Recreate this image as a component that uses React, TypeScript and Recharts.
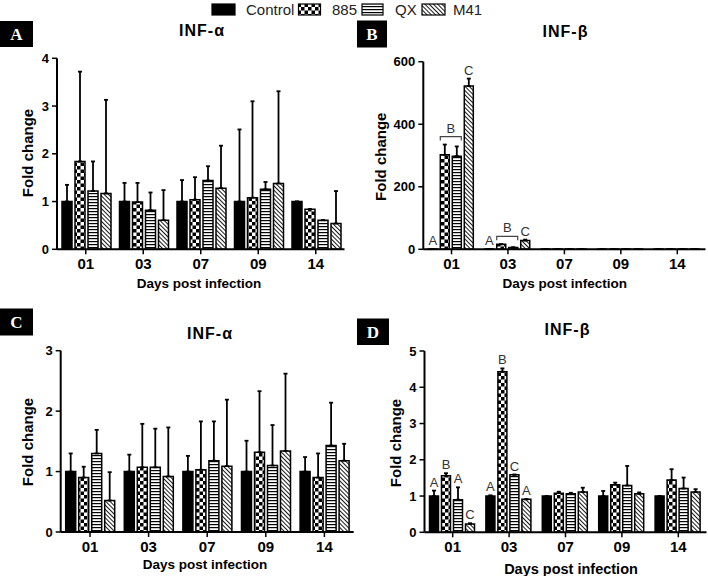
import React from 'react';
import { BarChart, Bar, XAxis, YAxis, ErrorBar, LabelList } from 'recharts';

const FONT = '"Liberation Sans", Arial, Helvetica, sans-serif';

const days = ['01', '03', '07', '09', '14'];
const seriesNames = ['Control', '885', 'QX', 'M41'];

// A: INF-alpha (top)
const aControl = [1.0, 1.0, 1.0, 1.0, 1.0];
const aControlTop = [1.35, 1.39, 1.45, 2.51, 1.0];
const a885 = [1.84, 0.99, 1.04, 1.08, 0.84];
const a885Top = [3.72, 1.39, 1.51, 3.1, 0.84];
const aQX = [1.22, 0.82, 1.44, 1.26, 0.61];
const aQXTop = [1.84, 1.19, 1.74, 1.41, 0.61];
const aM41 = [1.17, 0.61, 1.28, 1.38, 0.54];
const aM41Top = [3.13, 1.24, 2.17, 3.31, 1.22];

// B: INF-beta (top)
const bControl = [1, 1, 1, 1, 1];
const bControlTop = [1, 1, 1, 1, 1];
const b885 = [302, 16, 1, 1, 1];
const b885Top = [335, 16, 1, 1, 1];
const bQX = [298, 6, 1, 1, 1];
const bQXTop = [329, 6, 1, 1, 1];
const bM41 = [522, 28, 1, 1, 1];
const bM41Top = [546, 31, 1, 1, 1];
const bLetters = [
  ['A', 'A', '', '', ''],
  ['B', 'B', '', '', ''],
  ['', '', '', '', ''],
  ['C', 'C', '', '', ''],
];

// C: INF-alpha (bottom)
const cControl = [1.0, 1.0, 1.0, 1.0, 1.0];
const cControlTop = [1.3, 1.28, 1.26, 1.51, 1.24];
const c885 = [0.9, 1.07, 1.03, 1.32, 0.9];
const c885Top = [1.08, 1.79, 1.83, 2.33, 1.3];
const cQX = [1.3, 1.07, 1.18, 1.1, 1.43];
const cQXTop = [1.69, 1.71, 1.83, 1.77, 2.14];
const cM41 = [0.52, 0.92, 1.09, 1.34, 1.18];
const cM41Top = [0.99, 1.73, 2.19, 2.62, 1.46];

// D: INF-beta (bottom)
const dControl = [1.0, 1.0, 1.0, 1.0, 1.0];
const dControlTop = [1.15, 1.02, 1.0, 1.14, 1.0];
const d885 = [1.56, 4.43, 1.08, 1.31, 1.44];
const d885Top = [1.63, 4.52, 1.12, 1.37, 1.74];
const dQX = [0.9, 1.59, 1.06, 1.29, 1.21];
const dQXTop = [1.24, 1.59, 1.09, 1.83, 1.51];
const dM41 = [0.23, 0.91, 1.11, 1.06, 1.11];
const dM41Top = [0.25, 0.91, 1.23, 1.1, 1.19];
const dLetters = [
  ['A', 'A', '', '', ''],
  ['B', 'B', '', '', ''],
  ['A', 'C', '', '', ''],
  ['C', 'A', '', '', ''],
];

function buildRows(means: number[][], tops: number[][], letters?: string[][]) {
  return days.map((day, i) => {
    const row: any = { day };
    means.forEach((m, s) => {
      row['s' + s] = m[i];
      row['e' + s] = [0, Math.max(0, tops[s][i] - m[i])];
      row['l' + s] = letters ? letters[s][i] : '';
    });
    return row;
  });
}

function barBox(props: any) {
  const vb = props.viewBox || {};
  const x = props.x ?? vb.x;
  const y = props.y ?? vb.y;
  const w = props.width ?? vb.width;
  const h = props.height ?? vb.height;
  const top = Math.min(y, y + h);
  const base = Math.max(y, y + h);
  return { x, w, top, base };
}

const letterLabel = (means: number[], tops: number[]) => (props: any) => {
  const { value, index } = props;
  if (!value) return null;
  const { x, w, top, base } = barBox(props);
  const ppu = means[index] ? (base - top) / means[index] : 0;
  const t = Math.min(top, base - tops[index] * ppu);
  return (
    <text x={x + w / 2} y={t - 4} textAnchor="middle" fontSize={13} fill="#333" fontFamily={FONT}>
      {value}
    </text>
  );
};

const bracketLabel = (means: number[], tops: number[], nextMeans: number[], nextTops: number[]) => (props: any) => {
  const { value, index } = props;
  if (!value) return null;
  const { x, w, top, base } = barBox(props);
  const ppu = (base - top) / means[index];
  const t1 = base - Math.max(means[index], tops[index]) * ppu;
  const t2 = base - Math.max(nextMeans[index], nextTops[index]) * ppu;
  const yb = Math.min(t1, t2) - 8;
  const x1 = x;
  const x2 = x + 2 * w + 3;
  return (
    <g>
      <path d={`M${x1},${yb + 4}V${yb}H${x2}V${yb + 4}`} stroke="#444" strokeWidth={1.2} fill="none" />
      <text x={(x1 + x2) / 2} y={yb - 4} textAnchor="middle" fontSize={13} fill="#333" fontFamily={FONT}>
        {value}
      </text>
    </g>
  );
};

function Patterns({ id }: { id: string }) {
  return (
    <defs>
      <pattern id={`chk-${id}`} width={7} height={7} patternUnits="userSpaceOnUse">
        <rect width={7} height={7} fill="#fff" />
        <rect width={3.5} height={3.5} fill="#000" />
        <rect x={3.5} y={3.5} width={3.5} height={3.5} fill="#000" />
      </pattern>
      <pattern id={`hz-${id}`} width={4} height={3} patternUnits="userSpaceOnUse">
        <rect width={4} height={3} fill="#fff" />
        <rect width={4} height={1.2} fill="#000" />
      </pattern>
      <pattern id={`dg-${id}`} width={3} height={3} patternUnits="userSpaceOnUse" patternTransform="rotate(-45)">
        <rect width={3} height={3} fill="#fff" />
        <rect width={0.9} height={3} fill="#000" />
      </pattern>
    </defs>
  );
}

type PanelProps = {
  id: string;
  box: { left: number; top: number; width: number; height: number };
  margin: { top: number; right: number; left: number; bottom: number };
  yWidth: number;
  yMax: number;
  ticks: number[];
  means: number[][];
  tops: number[][];
  letters?: string[][];
  bracket?: number;
};

function Panel({ id, box, margin, yWidth, yMax, ticks, means, tops, letters, bracket }: PanelProps) {
  const rows = buildRows(means, tops, letters);
  const fills = ['#000', `url(#chk-${id})`, `url(#hz-${id})`, `url(#dg-${id})`];
  return (
    <div style={{ position: 'absolute', left: box.left, top: box.top }}>
      <BarChart width={box.width} height={box.height} data={rows} margin={margin} barCategoryGap={5} barGap={3}>
        <Patterns id={id} />
        <XAxis
          dataKey="day"
          height={25}
          interval={0}
          tickSize={5}
          tickMargin={4}
          axisLine={{ stroke: '#000', strokeWidth: 2 }}
          tickLine={{ stroke: '#000', strokeWidth: 1.5 }}
          tick={{ fill: '#000', fontSize: 15, fontWeight: 700, fontFamily: FONT }}
        />
        <YAxis
          width={yWidth}
          domain={[0, yMax]}
          ticks={ticks}
          interval={0}
          tickSize={5}
          tickMargin={3}
          axisLine={{ stroke: '#000', strokeWidth: 2 }}
          tickLine={{ stroke: '#000', strokeWidth: 1.5 }}
          tick={{ fill: '#000', fontSize: 13, fontWeight: 700, fontFamily: FONT }}
        />
        {means.map((m, s) => (
          <Bar
            key={s}
            dataKey={'s' + s}
            name={seriesNames[s]}
            fill={fills[s]}
            stroke="#000"
            strokeWidth={1.5}
            isAnimationActive={false}
          >
            <ErrorBar dataKey={'e' + s} width={2} strokeWidth={1.8} stroke="#000" direction="y" />
            {letters && (
              <LabelList
                dataKey={'l' + s}
                content={
                  bracket === s
                    ? bracketLabel(m, tops[s], means[s + 1], tops[s + 1])
                    : letterLabel(m, tops[s])
                }
              />
            )}
          </Bar>
        ))}
      </BarChart>
    </div>
  );
}

const panelBoxes = [
  { t: 'A', x: 0, y: 21, w: 33, h: 26 },
  { t: 'B', x: 357, y: 20.5, w: 30, h: 27 },
  { t: 'C', x: 0, y: 308.5, w: 33, h: 27 },
  { t: 'D', x: 357, y: 318.5, w: 32, h: 26.5 },
];

const titles = [
  { t: 'INF-\u03b1', x: 202, y: 36 },
  { t: 'INF-\u03b2', x: 565.5, y: 36.5 },
  { t: 'INF-\u03b1', x: 210, y: 339 },
  { t: 'INF-\u03b2', x: 567.5, y: 335 },
];

const yTitles = [
  { x: 33.4, y: 153 },
  { x: 385.7, y: 156.7 },
  { x: 33.4, y: 442 },
  { x: 400.7, y: 443 },
];

const xTitles = [
  { x: 199, y: 288, s: 13.5 },
  { x: 564.7, y: 288, s: 13.5 },
  { x: 205, y: 569, s: 13.5 },
  { x: 571, y: 573.5, s: 14.5 },
];

const legendPos = [
  { bx: 212, bw: 23, tx: 246 },
  { bx: 298.5, bw: 22, tx: 332 },
  { bx: 362, bw: 21, tx: 395 },
  { bx: 422, bw: 23, tx: 453 },
];

export default function App() {
  const legendFills = ['#000', 'url(#chk-L)', 'url(#hz-L)', 'url(#dg-L)'];
  return (
    <div style={{ position: 'absolute', left: 0, top: 0, width: 708, height: 576, background: '#fff', overflow: 'hidden' }}>
      <Panel
        id="A"
        box={{ left: 0, top: 40, width: 350, height: 240 }}
        margin={{ top: 18.3, right: 5.5, left: 17, bottom: 5.7 }}
        yWidth={40}
        yMax={4}
        ticks={[0, 1, 2, 3, 4]}
        means={[aControl, a885, aQX, aM41]}
        tops={[aControlTop, a885Top, aQXTop, aM41Top]}
      />
      <Panel
        id="B"
        box={{ left: 350, top: 40, width: 358, height: 240 }}
        margin={{ top: 21.7, right: 2.5, left: 23.3, bottom: 5.7 }}
        yWidth={50}
        yMax={600}
        ticks={[0, 200, 400, 600]}
        means={[bControl, b885, bQX, bM41]}
        tops={[bControlTop, b885Top, bQXTop, bM41Top]}
        letters={bLetters}
        bracket={1}
      />
      <Panel
        id="C"
        box={{ left: 0, top: 320, width: 354, height: 240 }}
        margin={{ top: 30.7, right: 0.3, left: 20.7, bottom: 3 }}
        yWidth={40}
        yMax={3}
        ticks={[0, 1, 2, 3]}
        means={[cControl, c885, cQX, cM41]}
        tops={[cControlTop, c885Top, cQXTop, cM41Top]}
      />
      <Panel
        id="D"
        box={{ left: 354, top: 320, width: 354, height: 240 }}
        margin={{ top: 31, right: 1.5, left: 30.5, bottom: 2.7 }}
        yWidth={40}
        yMax={5}
        ticks={[0, 1, 2, 3, 4, 5]}
        means={[dControl, d885, dQX, dM41]}
        tops={[dControlTop, d885Top, dQXTop, dM41Top]}
        letters={dLetters}
      />
      <svg width={708} height={576} style={{ position: 'absolute', left: 0, top: 0, pointerEvents: 'none' }}>
        <Patterns id="L" />
        {seriesNames.map((name, i) => (
          <g key={name}>
            <rect x={legendPos[i].bx} y={4} width={legendPos[i].bw} height={11} fill={legendFills[i]} stroke="#000" strokeWidth={1.2} />
            <text x={legendPos[i].tx} y={15} fontSize={15} fill="#222" fontFamily={FONT}>
              {name}
            </text>
          </g>
        ))}
        {panelBoxes.map((b) => (
          <g key={b.t}>
            <rect x={b.x} y={b.y} width={b.w} height={b.h} fill="#000" />
            <text
              x={b.x + b.w / 2}
              y={b.y + b.h / 2 + 6}
              textAnchor="middle"
              fontSize={17}
              fontWeight={700}
              fill="#fff"
              fontFamily='"Liberation Serif", "Times New Roman", serif'
            >
              {b.t}
            </text>
          </g>
        ))}
        {titles.map((t, i) => (
          <text key={i} x={t.x} y={t.y} textAnchor="middle" fontSize={16} fontWeight={700} letterSpacing={1} fill="#000" fontFamily={FONT}>
            {t.t}
          </text>
        ))}
        {yTitles.map((t, i) => (
          <text
            key={i}
            x={t.x}
            y={t.y}
            transform={`rotate(-90 ${t.x} ${t.y})`}
            textAnchor="middle"
            fontSize={15}
            fontWeight={700}
            fill="#000"
            fontFamily={FONT}
          >
            Fold change
          </text>
        ))}
        {xTitles.map((t, i) => (
          <text key={i} x={t.x} y={t.y} textAnchor="middle" fontSize={t.s} fontWeight={700} fill="#000" fontFamily={FONT}>
            Days post infection
          </text>
        ))}
      </svg>
    </div>
  );
}
